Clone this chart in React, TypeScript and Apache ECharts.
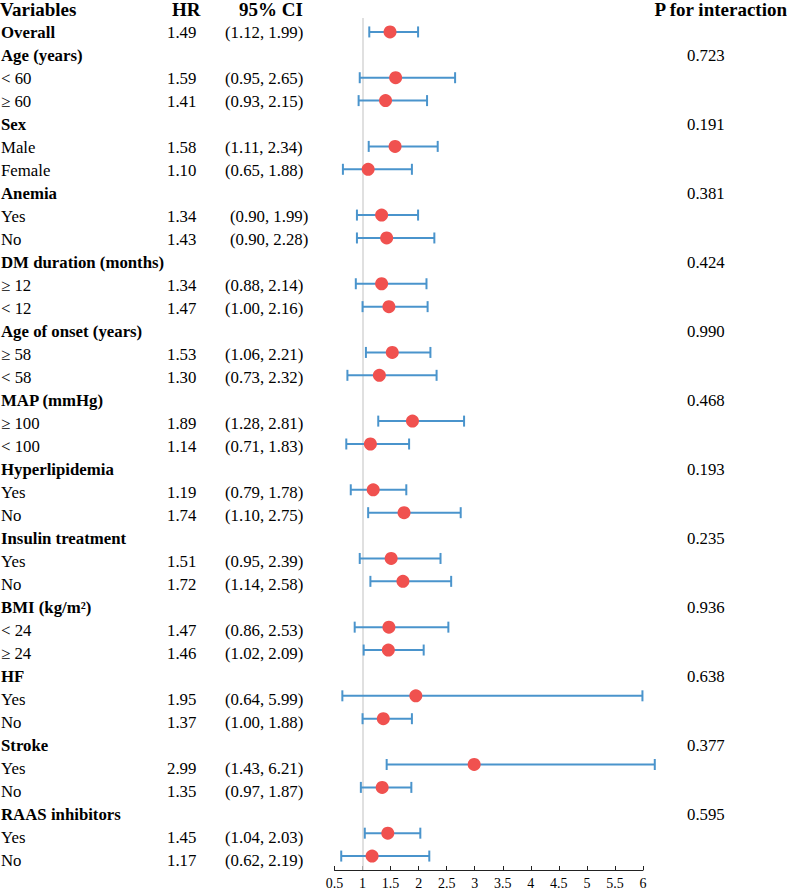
import React, { useEffect, useRef } from "react";
import * as echarts from "echarts";

const labels = [
  "Overall", "Age (years)", "< 60", "≥ 60", "Sex", "Male", "Female",
  "Anemia", "Yes", "No", "DM duration (months)", "≥ 12", "< 12",
  "Age of onset (years)", "≥ 58", "< 58", "MAP (mmHg)", "≥ 100", "< 100",
  "Hyperlipidemia", "Yes", "No", "Insulin treatment", "Yes", "No",
  "BMI (kg/m²)", "< 24", "≥ 24", "HF", "Yes", "No", "Stroke", "Yes", "No",
  "RAAS inhibitors", "Yes", "No",
];
const boldRows = [0, 1, 4, 7, 10, 13, 16, 19, 22, 25, 28, 31, 34];
const hrValues: (number | null)[] = [
  1.49, null, 1.59, 1.41, null, 1.58, 1.10, null, 1.34, 1.43, null, 1.34, 1.47,
  null, 1.53, 1.30, null, 1.89, 1.14, null, 1.19, 1.74, null, 1.51, 1.72,
  null, 1.47, 1.46, null, 1.95, 1.37, null, 2.99, 1.35, null, 1.45, 1.17,
];
const ciLower: (number | null)[] = [
  1.12, null, 0.95, 0.93, null, 1.11, 0.65, null, 0.90, 0.90, null, 0.88, 1.00,
  null, 1.06, 0.73, null, 1.28, 0.71, null, 0.79, 1.10, null, 0.95, 1.14,
  null, 0.86, 1.02, null, 0.64, 1.00, null, 1.43, 0.97, null, 1.04, 0.62,
];
const ciUpper: (number | null)[] = [
  1.99, null, 2.65, 2.15, null, 2.34, 1.88, null, 1.99, 2.28, null, 2.14, 2.16,
  null, 2.21, 2.32, null, 2.81, 1.83, null, 1.78, 2.75, null, 2.39, 2.58,
  null, 2.53, 2.09, null, 5.99, 1.88, null, 6.21, 1.87, null, 2.03, 2.19,
];
const pInteraction = [
  "", "0.723", "", "", "0.191", "", "", "0.381", "", "", "0.424", "", "",
  "0.990", "", "", "0.468", "", "", "0.193", "", "", "0.235", "", "",
  "0.936", "", "", "0.638", "", "", "0.377", "", "", "0.595", "", "",
];
const shiftedCiRows = [8, 9];
const headers = ["Variables", "HR", "95% CI", "P for interaction"];
const xTicks = { min: 0.5, max: 6, interval: 0.5 };
const refValue = 1;

const FONT = "Liberation Serif";
const W = 787;
const H = 890;
const ROW0 = 32;
const ROW_H = 23;
const GRID_TOP = 18;
const AXIS_Y = 874;
const RED = "#F0514F";
const BLUE = "#4A94CC";
const BODY_SIZE = 16.8;

export default function App() {
  const ref = useRef<HTMLDivElement>(null);
  useEffect(() => {
    if (!ref.current) return;
    const chart = echarts.init(ref.current, null, { renderer: "svg" });
    const n = labels.length;
    const yMin = (GRID_TOP - ROW0) / ROW_H;
    const yMax = yMin + (AXIS_Y - GRID_TOP) / ROW_H;

    const graphics: any[] = [];
    const txt = (text: string, x: number, y: number, size: number, bold: boolean, align = "left") => ({
      type: "text",
      x,
      y,
      silent: true,
      z: 20,
      style: {
        text,
        fontFamily: FONT,
        fontSize: size,
        fontWeight: bold ? "bold" : "normal",
        fill: "#000",
        align,
        verticalAlign: "middle",
      },
    });
    graphics.push(txt(headers[0], 0, 9, 19, true));
    graphics.push(txt(headers[1], 172, 9, 19, true));
    graphics.push(txt(headers[2], 239, 9, 19, true));
    graphics.push(txt(headers[3], 787, 9, 19, true, "right"));
    for (let i = 0; i < n; i++) {
      const y = ROW0 + i * ROW_H;
      graphics.push(txt(labels[i], 1, y, BODY_SIZE, boldRows.includes(i)));
      const hr = hrValues[i];
      const lo = ciLower[i];
      const hi = ciUpper[i];
      if (hr != null && lo != null && hi != null) {
        graphics.push(txt(hr.toFixed(2), 167, y, BODY_SIZE, false));
        const ci = `(${lo.toFixed(2)}, ${hi.toFixed(2)})`;
        graphics.push(txt(ci, shiftedCiRows.includes(i) ? 230 : 225, y, BODY_SIZE, false));
      }
      if (pInteraction[i]) graphics.push(txt(pInteraction[i], 687, y, BODY_SIZE, false));
    }

    const barData: any[] = [];
    const pointData: any[] = [];
    for (let i = 0; i < n; i++) {
      const hr = hrValues[i];
      const lo = ciLower[i];
      const hi = ciUpper[i];
      if (hr != null && lo != null && hi != null) {
        barData.push([lo, hi, i]);
        pointData.push([hr, i]);
      }
    }

    chart.setOption({
      animation: false,
      textStyle: { fontFamily: FONT },
      grid: { left: 334.5, right: W - 643, top: GRID_TOP, bottom: H - AXIS_Y, containLabel: false },
      xAxis: {
        type: "value",
        position: "bottom",
        min: xTicks.min,
        max: xTicks.max,
        interval: xTicks.interval,
        axisLine: { show: true, onZero: false, lineStyle: { color: "#222", width: 1 } },
        axisTick: { show: true, inside: true, length: 4, lineStyle: { color: "#222" } },
        axisLabel: {
          fontFamily: FONT,
          fontSize: 14,
          color: "#000",
          margin: 6,
          formatter: (v: number) => String(v),
        },
        splitLine: { show: false },
      },
      yAxis: {
        type: "value",
        inverse: true,
        min: yMin,
        max: yMax,
        show: false,
      },
      series: [
        {
          type: "scatter",
          data: [],
          z: 1,
          markLine: {
            silent: true,
            z: 1,
            symbol: "none",
            label: { show: false },
            lineStyle: { color: "#d6d6d6", width: 1.5, type: "solid" },
            data: [{ xAxis: refValue }],
          },
        },
        {
          type: "custom",
          z: 10,
          clip: false,
          data: barData,
          renderItem: (params: any, api: any) => {
            const a = api.coord([api.value(0), api.value(2)]);
            const b = api.coord([api.value(1), api.value(2)]);
            const cap = 5.5;
            const style = { stroke: BLUE, lineWidth: 2, fill: "none" };
            return {
              type: "group",
              children: [
                { type: "line", shape: { x1: a[0], y1: a[1], x2: b[0], y2: b[1] }, style },
                { type: "line", shape: { x1: a[0], y1: a[1] - cap, x2: a[0], y2: a[1] + cap }, style },
                { type: "line", shape: { x1: b[0], y1: b[1] - cap, x2: b[0], y2: b[1] + cap }, style },
              ],
            };
          },
        },
        {
          type: "scatter",
          z: 11,
          data: pointData,
          symbol: "circle",
          symbolSize: 13,
          itemStyle: { color: RED, opacity: 1 },
        },
      ],
      graphic: graphics,
    });
    return () => chart.dispose();
  }, []);
  return (
    <div
      ref={ref}
      style={{ position: "absolute", left: 0, top: 0, width: W, height: H, background: "#fff" }}
    />
  );
}
